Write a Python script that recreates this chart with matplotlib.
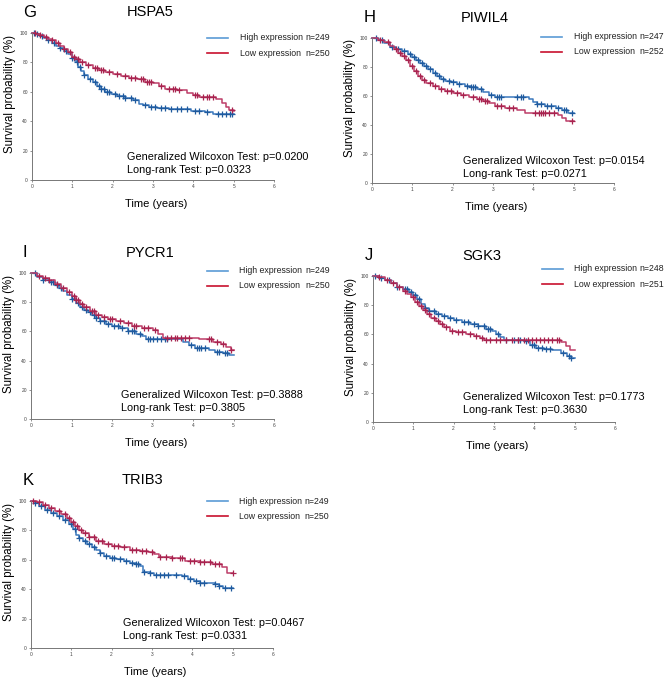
"""Kaplan-Meier panels G-K (high vs low expression)."""

import matplotlib
matplotlib.use("Agg")
import matplotlib.pyplot as plt
import numpy as np

plt.rcParams["font.family"] = ["Liberation Sans", "DejaVu Sans"]

PANELS = ["G", "H", "I", "J", "K"]
GENES = ["HSPA5", "PIWIL4", "PYCR1", "SGK3", "TRIB3"]
N_HIGH = [249, 247, 249, 248, 249]
N_LOW = [250, 252, 250, 251, 250]
WILCOXON_P = ["0.0200", "0.0154", "0.3888", "0.1773", "0.0467"]
LOGRANK_P = ["0.0323", "0.0271", "0.3805", "0.3630", "0.0331"]

X_TICKS = [0, 1, 2, 3, 4, 5, 6]
Y_TICKS = [0, 20, 40, 60, 80, 100]

# ---------------------------------------------------------------- HSPA5
HSPA5_HIGH_T = [0, 0.1, 0.2, 0.3, 0.4, 0.5, 0.6, 0.7, 0.8, 0.9, 1.0, 1.08, 1.15, 1.22, 1.3,
                1.4, 1.5, 1.6, 1.7, 1.8, 1.95, 2.1, 2.3, 2.5, 2.65, 2.75, 2.9, 3.1, 3.4, 3.8,
                3.95, 4.3, 4.5, 5.0]
HSPA5_HIGH_S = [100, 99, 98, 96.5, 95, 93, 91, 89.5, 88, 86, 83, 80, 77, 74, 71.5,
                69, 66.5, 64, 62, 60, 58.5, 57, 56, 54.5, 52, 51, 50, 49, 48.5, 48,
                47, 46, 45, 45]
HSPA5_HIGH_C = [0.05, 0.12, 0.25, 0.4, 0.55, 0.7, 0.85, 1.0, 1.05, 1.12, 1.2, 1.3, 1.45, 1.55,
                1.65, 1.72, 1.78, 1.85, 1.9, 2.05, 2.15, 2.25, 2.3, 2.45, 2.55, 2.8, 2.95, 3.05,
                3.2, 3.3, 3.45, 3.6, 3.7, 3.85, 4.05, 4.15, 4.35, 4.6, 4.7, 4.8, 4.9, 4.97]
HSPA5_LOW_T = [0, 0.1, 0.2, 0.3, 0.4, 0.5, 0.6, 0.7, 0.8, 0.9, 1.0, 1.1, 1.2, 1.35, 1.5, 1.65,
               1.8, 2.0, 2.2, 2.4, 2.6, 2.8, 3.0, 3.15, 3.3, 3.6, 3.85, 4.0, 4.15, 4.55, 4.7,
               4.8, 4.88, 5.0]
HSPA5_LOW_S = [100, 99.5, 98.5, 97, 96, 95, 93, 91, 89, 87, 84, 82, 80, 78, 76, 75,
               73.5, 72, 70.5, 69.5, 68.5, 67, 66, 64, 62, 61.5, 59.5, 58, 56.5, 55, 52.5,
               50, 47.5, 47]
HSPA5_LOW_C = [0.08, 0.2, 0.35, 0.5, 0.65, 0.8, 0.95, 1.05, 1.15, 1.25, 1.4, 1.55, 1.6, 1.7,
               1.75, 1.9, 2.1, 2.3, 2.45, 2.55, 2.7, 2.75, 2.85, 2.9, 2.95, 3.2, 3.4, 3.5, 3.55,
               3.65, 4.05, 4.1, 4.25, 4.35, 4.4, 4.5, 4.95]

# ---------------------------------------------------------------- PIWIL4
PIWIL4_HIGH_T = [0, 0.15, 0.3, 0.45, 0.6, 0.75, 0.9, 1.0, 1.1, 1.2, 1.3, 1.4, 1.5, 1.6, 1.7,
                 1.8, 1.95, 2.1, 2.3, 2.45, 2.6, 2.75, 2.9, 3.05, 3.5, 3.9, 4.0, 4.1, 4.3, 4.55,
                 4.7, 4.85, 5.0]
PIWIL4_HIGH_S = [100, 98.5, 96.5, 94, 92.5, 91, 89, 87, 85, 83, 80.5, 78.5, 76, 74, 72,
                 70.5, 69.5, 68.5, 67, 66, 64.5, 63, 61, 59.5, 59, 58, 56, 54.5, 53, 52,
                 50.5, 48.5, 48.5]
PIWIL4_HIGH_C = [0.1, 0.25, 0.5, 0.65, 0.8, 0.95, 1.05, 1.15, 1.25, 1.35, 1.45, 1.55, 1.65,
                 1.75, 1.9, 2.0, 2.15, 2.35, 2.45, 2.5, 2.55, 2.7, 2.95, 3.1, 3.15, 3.2, 3.6,
                 3.7, 3.75, 4.1, 4.2, 4.35, 4.45, 4.6, 4.75, 4.8, 4.95]
PIWIL4_LOW_T = [0, 0.15, 0.3, 0.45, 0.55, 0.65, 0.75, 0.85, 0.95, 1.05, 1.15, 1.25, 1.35, 1.5,
                1.65, 1.8, 2.0, 2.2, 2.4, 2.6, 2.75, 2.9, 3.05, 3.3, 3.6, 3.8, 4.6, 4.72, 4.82,
                5.0]
PIWIL4_LOW_S = [100, 98.5, 97, 94.5, 92.5, 90, 87.5, 85, 81, 77, 74, 71, 69, 67,
                65, 63.5, 62, 61, 59.5, 58, 56.5, 55, 53, 52, 50.5, 48.5, 47, 45, 42.5,
                42.5]
PIWIL4_LOW_C = [0.2, 0.4, 0.6, 0.7, 0.8, 0.9, 1.0, 1.1, 1.2, 1.3, 1.45, 1.55, 1.7, 1.85, 1.95,
                2.1, 2.25, 2.5, 2.65, 2.7, 2.8, 2.85, 3.1, 3.2, 3.4, 3.5, 4.05, 4.15, 4.2, 4.25,
                4.3, 4.4, 4.5, 4.95]

# ---------------------------------------------------------------- PYCR1
PYCR1_HIGH_T = [0, 0.15, 0.3, 0.45, 0.6, 0.7, 0.8, 0.9, 1.0, 1.1, 1.2, 1.3, 1.4, 1.5, 1.6,
                1.7, 1.85, 2.0, 2.2, 2.4, 2.6, 2.75, 2.85, 3.6, 3.75, 3.9, 4.05, 4.4, 4.55,
                4.75, 4.9, 5.0]
PYCR1_HIGH_S = [100, 97.5, 95.5, 93.5, 91.5, 89.5, 87.5, 85, 82, 79.5, 77, 75, 73, 71, 69,
                67, 65, 63.5, 62, 60.5, 58.5, 57, 55, 54.5, 53, 51, 48.5, 47.5, 46,
                45, 44, 44]
PYCR1_HIGH_C = [0.1, 0.3, 0.5, 0.55, 0.65, 0.75, 1.0, 1.15, 1.25, 1.35, 1.45, 1.55, 1.6, 1.7,
                1.8, 1.9, 2.05, 2.15, 2.25, 2.4, 2.5, 2.55, 2.7, 2.9, 2.95, 3.0, 3.1, 3.2, 3.3,
                3.35, 3.95, 4.1, 4.15, 4.2, 4.3, 4.6, 4.65, 4.8, 4.85]
PYCR1_LOW_T = [0, 0.15, 0.3, 0.45, 0.6, 0.75, 0.9, 1.0, 1.1, 1.2, 1.3, 1.45, 1.6, 1.75, 1.9,
               2.1, 2.3, 2.5, 2.75, 3.0, 3.13, 3.25, 4.15, 4.5, 4.7, 4.82, 4.93, 5.0]
PYCR1_LOW_S = [100, 98, 96.5, 95, 92.5, 90, 87, 84.5, 81.5, 79, 76.5, 74, 71.5, 70, 68.5,
               67, 65.5, 64, 62.5, 61, 58, 55.5, 54.5, 53, 51.5, 49.5, 47, 47]
PYCR1_LOW_C = [0.2, 0.35, 0.45, 0.65, 0.8, 0.95, 1.05, 1.12, 1.15, 1.25, 1.35, 1.5, 1.55, 1.65,
               1.8, 1.95, 2.0, 2.2, 2.4, 2.55, 2.6, 2.8, 2.9, 3.05, 3.35, 3.45, 3.55, 3.6, 3.7,
               3.8, 3.9, 4.4, 4.45, 4.6, 4.75, 4.95]

# ---------------------------------------------------------------- SGK3
SGK3_HIGH_T = [0, 0.15, 0.3, 0.45, 0.6, 0.75, 0.9, 1.0, 1.1, 1.2, 1.3, 1.4, 1.55, 1.7, 1.85,
               2.0, 2.2, 2.4, 2.6, 2.8, 2.95, 3.05, 3.15, 3.25, 3.75, 3.9, 4.05, 4.25, 4.45,
               4.65, 4.8, 4.9, 5.0]
SGK3_HIGH_S = [100, 98.5, 97, 95, 92.5, 91, 89, 87, 84.5, 81, 78, 76, 74, 72.5, 71,
               70, 68.5, 67, 65.5, 64, 62.5, 60.5, 58.5, 56.5, 55.5, 53, 51, 50, 49,
               47, 45.5, 44, 44]
SGK3_HIGH_C = [0.05, 0.2, 0.4, 0.6, 0.8, 0.85, 0.95, 1.05, 1.15, 1.3, 1.4, 1.5, 1.6, 1.75,
               1.9, 2.05, 2.25, 2.35, 2.5, 2.6, 2.75, 2.85, 2.9, 3.1, 3.3, 3.5, 3.6, 3.65, 3.8,
               3.95, 4.0, 4.1, 4.2, 4.3, 4.4, 4.7, 4.85, 4.9]
SGK3_LOW_T = [0, 0.15, 0.3, 0.45, 0.6, 0.75, 0.85, 0.95, 1.05, 1.15, 1.25, 1.35, 1.45, 1.55,
              1.65, 1.75, 1.9, 2.05, 2.3, 2.5, 2.65, 2.75, 4.65, 4.78, 4.88, 5.0]
SGK3_LOW_S = [100, 99, 97, 95, 92.5, 90, 88, 85.5, 82.5, 79.5, 76.5, 74, 71.5, 69,
              67, 65, 62.5, 61.5, 60.5, 59, 57.5, 56, 54.5, 52, 49, 49]
SGK3_LOW_C = [0.15, 0.35, 0.5, 0.65, 0.8, 1.0, 1.1, 1.2, 1.3, 1.4, 1.5, 1.6, 1.7, 1.8, 1.95,
              2.1, 2.2, 2.4, 2.55, 2.7, 2.8, 2.9, 3.05, 3.15, 3.3, 3.45, 3.6, 3.75, 3.85, 3.95,
              4.05, 4.15, 4.25, 4.35, 4.45, 4.55, 4.62]

# ---------------------------------------------------------------- TRIB3
TRIB3_HIGH_T = [0, 0.1, 0.2, 0.35, 0.5, 0.65, 0.8, 0.95, 1.05, 1.12, 1.2, 1.3, 1.4, 1.5, 1.6,
                1.7, 1.8, 1.95, 2.1, 2.3, 2.45, 2.6, 2.7, 2.78, 2.95, 3.05, 3.75, 3.9, 4.05,
                4.2, 4.55, 4.65, 4.75, 5.0]
TRIB3_HIGH_S = [100, 98.5, 96.5, 94, 92, 89.5, 87, 84.5, 81, 77, 75, 72.5, 70.5, 68.5, 66.5,
                64.5, 62.5, 61, 60.5, 59, 58, 57, 55.5, 52, 51, 49.5, 49, 46.8, 45.5,
                44.5, 43.5, 42, 41, 41]
TRIB3_HIGH_C = [0.1, 0.25, 0.4, 0.55, 0.7, 0.85, 1.0, 1.1, 1.2, 1.35, 1.45, 1.55, 1.7, 1.85,
                2.0, 2.05, 2.2, 2.35, 2.5, 2.6, 2.65, 2.8, 2.95, 3.1, 3.2, 3.3, 3.4, 3.6, 3.8,
                3.95, 4.1, 4.2, 4.3, 4.55, 4.65, 4.8, 4.95]
TRIB3_LOW_T = [0, 0.15, 0.3, 0.45, 0.6, 0.75, 0.9, 1.0, 1.1, 1.2, 1.3, 1.45, 1.6, 1.8, 2.0,
               2.2, 2.45, 2.7, 2.9, 3.05, 3.17, 3.5, 3.83, 4.2, 4.5, 4.73, 4.85, 5.0]
TRIB3_LOW_S = [100, 99, 97.5, 95.5, 93, 91, 88.5, 86, 83, 80.5, 78, 75.5, 73, 71, 69.5,
               68.5, 67, 66, 65, 64, 62, 61, 59.5, 58.5, 57, 55, 51, 51]
TRIB3_LOW_C = [0.05, 0.2, 0.35, 0.5, 0.7, 0.85, 0.95, 1.05, 1.15, 1.25, 1.35, 1.45, 1.55,
               1.65, 1.75, 1.9, 2.05, 2.15, 2.3, 2.5, 2.6, 2.75, 2.85, 3.0, 3.2, 3.35, 3.5, 3.7,
               3.75, 3.95, 4.05, 4.2, 4.3, 4.45, 4.55, 4.65, 5.0]

CURVES = {
    "HSPA5": ((HSPA5_HIGH_T, HSPA5_HIGH_S, HSPA5_HIGH_C), (HSPA5_LOW_T, HSPA5_LOW_S, HSPA5_LOW_C)),
    "PIWIL4": ((PIWIL4_HIGH_T, PIWIL4_HIGH_S, PIWIL4_HIGH_C), (PIWIL4_LOW_T, PIWIL4_LOW_S, PIWIL4_LOW_C)),
    "PYCR1": ((PYCR1_HIGH_T, PYCR1_HIGH_S, PYCR1_HIGH_C), (PYCR1_LOW_T, PYCR1_LOW_S, PYCR1_LOW_C)),
    "SGK3": ((SGK3_HIGH_T, SGK3_HIGH_S, SGK3_HIGH_C), (SGK3_LOW_T, SGK3_LOW_S, SGK3_LOW_C)),
    "TRIB3": ((TRIB3_HIGH_T, TRIB3_HIGH_S, TRIB3_HIGH_C), (TRIB3_LOW_T, TRIB3_LOW_S, TRIB3_LOW_C)),
}

# layout (pixels): axes box (left, top, right, bottom), legend y, stats x/y
W, H = 669, 681
AX_BOX = [(32, 33, 274, 180), (372, 38, 614, 183), (31, 273, 274, 419),
          (373, 276, 615, 422), (31, 501, 273, 648)]
LEG_X = [0.723, 0.698, 0.723, 0.697, 0.726]
LEG_Y = [0.966, 1.007, 1.016, 1.048, 1.0]
STAT_X = [0.391, 0.375, 0.370, 0.371, 0.380]
STAT_Y = [0.158, 0.152, 0.164, 0.173, 0.172]
GENE_X = [0.49, 0.467, 0.49, 0.45, 0.46]

BLUE, BLUE_MARK, BLUE_LEG = "#3a78bd", "#1f5a9e", "#5b9bd5"
RED, RED_MARK, RED_LEG = "#bd3d68", "#a8234f", "#c8102e"


def step_value(t, s, at):
    idx = np.searchsorted(np.asarray(t), np.asarray(at), side="right") - 1
    return np.asarray(s)[idx]


def draw_panel(fig, i):
    l, t, r, b = AX_BOX[i]
    ax = fig.add_axes([l / W, 1 - b / H, (r - l) / W, (b - t) / H])
    gene = GENES[i]
    for (tt, ss, cc), col, mcol in zip(CURVES[gene], (BLUE, RED), (BLUE_MARK, RED_MARK)):
        ax.step(tt, ss, where="post", color=col, lw=1.1, clip_on=False)
        ax.plot(cc, step_value(tt, ss, cc), ls="none", marker="+", ms=5, mew=0.9,
                color=mcol, clip_on=False)

    ax.set_xlim(0, 6)
    ax.set_ylim(0, 100)
    ax.set_xticks(X_TICKS)
    ax.set_yticks(Y_TICKS)
    ax.tick_params(labelsize=3.5, labelcolor="#444444", length=1.5, width=0.5,
                   color="#666666", pad=1.5)
    for side in ("top", "right"):
        ax.spines[side].set_visible(False)
    for side in ("left", "bottom"):
        ax.spines[side].set_color("#777777")
        ax.spines[side].set_linewidth(0.7)
    ax.patch.set_alpha(0)

    ax.set_xlabel("Time (years)", fontsize=8)
    ax.xaxis.set_label_coords(0.514, -0.13)
    ax.set_ylabel("Survival probability (%)", fontsize=8.3)
    ax.yaxis.set_label_coords(-0.065, 0.585)

    ax.text(-0.035, 1.14, PANELS[i], transform=ax.transAxes, fontsize=12, va="center")
    ax.text(GENE_X[i], 1.14, gene, transform=ax.transAxes, fontsize=10.5,
            va="center", ha="center")

    # legend drawn by hand to mimic the tab-aligned n= column
    lx, ly = LEG_X[i], LEG_Y[i]
    for k, (lab, n, col) in enumerate((("High expression", N_HIGH[i], BLUE_LEG),
                                       ("Low expression", N_LOW[i], RED_LEG))):
        yy = ly - k * 0.103
        ax.plot([lx, lx + 0.087], [yy, yy], color=col, lw=1.2, transform=ax.transAxes,
                clip_on=False)
        ax.text(lx + 0.135, yy, lab, transform=ax.transAxes, fontsize=6.3,
                va="center", color="#222222")
        ax.text(lx + 0.405, yy, f"n={n}", transform=ax.transAxes, fontsize=6.3,
                va="center", color="#222222")

    sx, sy = STAT_X[i], STAT_Y[i]
    ax.text(sx, sy, f"Generalized Wilcoxon Test: p={WILCOXON_P[i]}", transform=ax.transAxes,
            fontsize=7.8, va="center")
    ax.text(sx, sy - 0.09, f"Long-rank Test: p={LOGRANK_P[i]}", transform=ax.transAxes,
            fontsize=7.8, va="center")
    return ax


fig = plt.figure(figsize=(W / 100, H / 100), dpi=100)
for i in range(len(PANELS)):
    draw_panel(fig, i)
fig.savefig("out.png", dpi=100)
